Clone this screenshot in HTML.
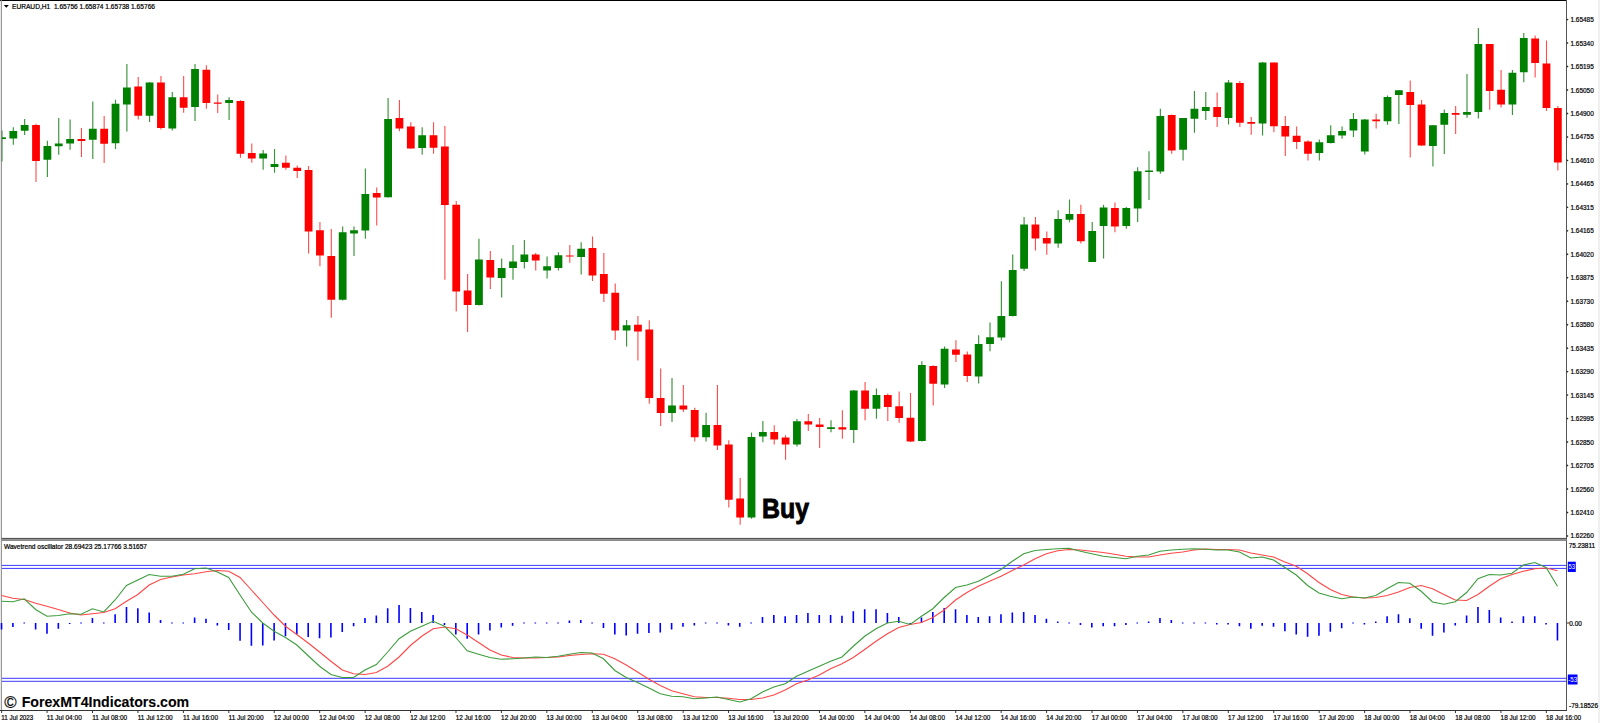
<!DOCTYPE html><html><head><meta charset="utf-8"><style>html,body{margin:0;padding:0;background:#fff;width:1600px;height:723px;overflow:hidden}svg{display:block;position:absolute;left:0;top:0}text{font-family:"Liberation Sans",sans-serif}.t{fill:#000;stroke:#000;stroke-width:0.22}</style></head><body><svg width="1600" height="723" viewBox="0 0 1600 723"><rect x="0" y="0" width="1600" height="723" fill="#fff"/><rect x="1598" y="0" width="2" height="723" fill="#f0f0f0"/><g clip-path="url(#cmain)"><clipPath id="cmain"><rect x="1.5" y="1" width="1565" height="537"/></clipPath><path d="M1.95 130.60V161.50M13.31 127.25V144.75M24.66 119.10V135.00M47.38 140.80V176.90M58.73 118.00V154.75M70.09 119.40V149.75M92.81 101.60V159.00M115.52 99.75V149.00M126.88 64.10V131.40M149.59 81.90V122.00M172.30 91.90V130.60M195.02 64.10V120.90M229.09 97.25V120.00M263.16 150.00V169.75M274.52 149.10V172.75M342.66 226.50V300.60M354.02 226.50V255.90M365.37 168.50V238.75M388.09 98.10V197.50M422.16 127.25V154.75M478.94 238.75V305.50M501.66 258.50V297.50M513.01 245.00V279.75M524.37 240.00V268.50M547.09 256.50V278.50M558.44 252.25V270.60M581.16 242.25V274.60M626.59 320.00V346.60M672.01 377.90V421.90M706.08 412.75V441.50M751.51 432.50V518.75M762.87 421.00V442.25M796.94 419.10V446.50M831.01 420.25V432.25M853.73 390.00V442.90M876.44 388.50V418.75M921.87 361.25V441.60M944.58 346.50V388.10M978.65 335.25V383.40M990.01 322.50V351.25M1001.37 281.25V340.60M1012.72 254.40V316.50M1024.08 216.90V271.00M1058.15 210.25V247.75M1069.51 199.60V222.25M1092.22 221.90V262.00M1103.58 204.75V258.50M1126.29 206.90V228.75M1137.65 167.25V221.90M1149.01 151.25V200.00M1160.36 108.75V173.75M1183.08 118.00V160.60M1194.43 91.00V132.75M1205.79 91.90V120.00M1228.51 80.00V124.40M1262.58 62.10V135.60M1319.36 139.40V160.60M1330.72 125.25V143.50M1342.08 126.50V138.75M1353.43 113.10V136.90M1364.79 119.00V154.60M1387.50 95.40V124.75M1398.86 90.00V124.00M1432.93 125.00V166.50M1444.29 109.40V154.00M1467.00 74.00V117.75M1478.36 28.10V118.50M1512.43 70.00V115.00M1523.79 32.90V82.25" stroke="#3a933a" stroke-width="1.15" fill="none"/><path d="M36.02 123.75V181.90M81.45 128.00V156.90M104.16 116.00V163.10M138.23 76.90V119.40M160.95 76.00V129.40M183.66 76.00V112.75M206.38 65.25V108.75M217.73 94.40V112.90M240.45 100.25V157.75M251.80 143.50V162.75M285.87 155.60V169.75M297.23 165.60V178.10M308.59 166.00V253.50M319.95 221.90V266.25M331.30 229.00V317.80M376.73 187.50V225.60M399.44 100.00V131.25M410.80 122.25V148.75M433.52 122.25V153.75M444.87 126.00V279.75M456.23 201.00V311.50M467.59 274.10V331.90M490.30 251.00V289.00M535.73 252.90V270.60M569.80 245.00V262.75M592.51 236.50V281.00M603.87 252.90V301.90M615.23 283.40V340.00M637.94 316.00V360.60M649.30 320.25V403.75M660.66 368.50V425.90M683.37 385.00V411.90M694.73 407.75V441.50M717.44 385.00V450.00M728.80 440.25V507.50M740.15 478.10V524.75M774.23 425.25V444.60M785.58 435.25V459.75M808.30 414.00V431.00M819.65 418.10V447.90M842.37 410.25V438.75M865.08 382.10V420.25M887.80 393.50V421.00M899.15 391.50V422.75M910.51 393.10V442.00M933.22 365.25V405.60M955.94 340.25V361.90M967.29 351.50V381.90M1035.44 216.90V250.60M1046.79 231.60V254.75M1080.87 204.75V243.50M1114.94 202.50V232.25M1171.72 114.60V153.75M1217.15 92.50V126.90M1239.86 81.00V126.90M1251.22 117.10V134.75M1273.93 62.50V132.25M1285.29 115.90V156.00M1296.65 126.50V149.00M1308.00 140.25V160.60M1376.15 113.75V128.50M1410.22 80.40V157.50M1421.58 100.00V146.00M1455.65 106.00V134.00M1489.72 44.00V109.75M1501.07 70.00V107.50M1535.14 35.60V77.50M1546.50 40.60V111.00M1557.86 106.00V170.60" stroke="#ff4a4a" stroke-width="1.1" fill="none"/><path d="M-1.95 137.50h7.8v1.50h-7.8zM9.41 131.00h7.8v7.50h-7.8zM20.76 125.00h7.8v5.75h-7.8zM43.48 146.00h7.8v13.75h-7.8zM54.84 143.50h7.8v2.75h-7.8zM66.19 139.10h7.8v4.40h-7.8zM88.91 128.75h7.8v11.00h-7.8zM111.62 103.75h7.8v39.55h-7.8zM122.98 87.50h7.8v16.90h-7.8zM145.69 82.50h7.8v33.30h-7.8zM168.40 97.25h7.8v31.25h-7.8zM191.12 69.00h7.8v38.10h-7.8zM225.19 100.00h7.8v2.90h-7.8zM259.26 153.50h7.8v4.90h-7.8zM270.62 164.10h7.8v2.80h-7.8zM338.76 232.25h7.8v67.45h-7.8zM350.12 230.25h7.8v3.25h-7.8zM361.47 194.00h7.8v36.60h-7.8zM384.19 119.00h7.8v78.20h-7.8zM418.26 135.25h7.8v12.85h-7.8zM475.04 259.40h7.8v45.60h-7.8zM497.76 268.10h7.8v10.00h-7.8zM509.12 261.50h7.8v6.60h-7.8zM520.47 254.40h7.8v7.50h-7.8zM543.19 266.25h7.8v4.15h-7.8zM554.54 255.25h7.8v12.85h-7.8zM577.26 248.75h7.8v8.15h-7.8zM622.69 325.25h7.8v5.35h-7.8zM668.11 405.60h7.8v7.30h-7.8zM702.18 425.00h7.8v12.25h-7.8zM747.61 437.10h7.8v80.40h-7.8zM758.97 431.90h7.8v4.70h-7.8zM793.04 421.25h7.8v23.15h-7.8zM827.11 427.25h7.8v1.75h-7.8zM849.83 390.40h7.8v39.60h-7.8zM872.54 395.00h7.8v13.75h-7.8zM917.97 365.00h7.8v75.90h-7.8zM940.68 348.75h7.8v35.85h-7.8zM974.75 344.00h7.8v32.60h-7.8zM986.11 337.25h7.8v6.75h-7.8zM997.47 316.00h7.8v21.50h-7.8zM1008.82 270.00h7.8v45.90h-7.8zM1020.18 224.60h7.8v44.15h-7.8zM1054.25 219.10h7.8v24.40h-7.8zM1065.61 214.00h7.8v5.75h-7.8zM1088.32 231.00h7.8v30.90h-7.8zM1099.68 207.50h7.8v18.40h-7.8zM1122.39 208.10h7.8v17.80h-7.8zM1133.75 171.25h7.8v37.25h-7.8zM1145.11 170.60h7.8v1.30h-7.8zM1156.46 115.90h7.8v55.70h-7.8zM1179.18 118.10h7.8v31.65h-7.8zM1190.53 108.75h7.8v10.00h-7.8zM1201.89 106.90h7.8v4.00h-7.8zM1224.61 82.50h7.8v35.40h-7.8zM1258.68 62.50h7.8v61.00h-7.8zM1315.46 142.25h7.8v10.85h-7.8zM1326.82 135.25h7.8v7.85h-7.8zM1338.18 131.00h7.8v4.60h-7.8zM1349.53 119.00h7.8v11.60h-7.8zM1360.89 119.60h7.8v32.00h-7.8zM1383.60 96.90h7.8v24.35h-7.8zM1394.96 90.25h7.8v4.75h-7.8zM1429.03 125.25h7.8v20.75h-7.8zM1440.39 113.10h7.8v11.65h-7.8zM1463.10 111.90h7.8v2.85h-7.8zM1474.46 44.10h7.8v67.80h-7.8zM1508.53 72.75h7.8v31.65h-7.8zM1519.89 38.10h7.8v34.15h-7.8z" fill="#008000"/><path d="M32.12 125.00h7.8v36.00h-7.8zM77.55 139.00h7.8v1.90h-7.8zM100.26 128.75h7.8v15.00h-7.8zM134.33 86.60h7.8v29.20h-7.8zM157.05 82.50h7.8v45.50h-7.8zM179.76 97.25h7.8v10.50h-7.8zM202.48 69.75h7.8v33.15h-7.8zM213.83 102.50h7.8v1.25h-7.8zM236.55 101.00h7.8v52.75h-7.8zM247.90 152.90h7.8v5.50h-7.8zM281.97 162.75h7.8v5.00h-7.8zM293.33 167.75h7.8v3.15h-7.8zM304.69 170.00h7.8v61.50h-7.8zM316.05 230.25h7.8v25.35h-7.8zM327.40 256.00h7.8v43.70h-7.8zM372.83 193.10h7.8v4.40h-7.8zM395.55 118.10h7.8v10.40h-7.8zM406.90 126.60h7.8v21.80h-7.8zM429.62 135.25h7.8v12.50h-7.8zM440.97 146.50h7.8v58.50h-7.8zM452.33 204.75h7.8v86.85h-7.8zM463.69 290.60h7.8v14.40h-7.8zM486.40 260.00h7.8v17.50h-7.8zM531.83 254.40h7.8v6.20h-7.8zM565.90 255.40h7.8v1.20h-7.8zM588.61 248.10h7.8v27.30h-7.8zM599.97 274.10h7.8v19.65h-7.8zM611.33 292.75h7.8v37.85h-7.8zM634.04 324.75h7.8v6.75h-7.8zM645.40 329.60h7.8v68.50h-7.8zM656.76 397.90h7.8v15.00h-7.8zM679.47 405.60h7.8v4.00h-7.8zM690.83 410.00h7.8v27.25h-7.8zM713.54 425.00h7.8v20.60h-7.8zM724.90 444.60h7.8v55.15h-7.8zM736.25 498.50h7.8v19.00h-7.8zM770.33 431.90h7.8v7.50h-7.8zM781.68 437.50h7.8v7.10h-7.8zM804.40 421.25h7.8v3.35h-7.8zM815.75 424.60h7.8v2.30h-7.8zM838.47 427.25h7.8v2.15h-7.8zM861.18 390.60h7.8v18.15h-7.8zM883.90 395.00h7.8v11.90h-7.8zM895.25 406.25h7.8v11.65h-7.8zM906.61 417.75h7.8v23.85h-7.8zM929.32 365.90h7.8v17.85h-7.8zM952.04 349.60h7.8v5.15h-7.8zM963.39 354.40h7.8v21.50h-7.8zM1031.54 224.60h7.8v13.90h-7.8zM1042.89 238.10h7.8v5.40h-7.8zM1076.96 214.00h7.8v27.25h-7.8zM1111.04 208.10h7.8v18.40h-7.8zM1167.82 115.00h7.8v35.40h-7.8zM1213.25 106.90h7.8v10.20h-7.8zM1235.96 83.10h7.8v39.65h-7.8zM1247.32 121.90h7.8v1.85h-7.8zM1270.03 62.50h7.8v63.75h-7.8zM1281.39 125.90h7.8v10.70h-7.8zM1292.75 135.75h7.8v6.15h-7.8zM1304.10 141.50h7.8v12.25h-7.8zM1372.25 119.40h7.8v1.85h-7.8zM1406.32 91.90h7.8v13.10h-7.8zM1417.67 104.60h7.8v41.00h-7.8zM1451.75 112.90h7.8v1.85h-7.8zM1485.82 44.10h7.8v46.80h-7.8zM1497.17 89.75h7.8v14.65h-7.8zM1531.24 38.50h7.8v24.60h-7.8zM1542.60 63.50h7.8v44.40h-7.8zM1553.96 108.10h7.8v54.30h-7.8z" fill="#ff0000"/></g><path d="M1.5 130.6V161.5" stroke="#0a5a0a" stroke-width="1.1"/><rect x="1.9" y="137.6" width="3.95" height="1.3" fill="#008000"/><text x="762" y="517.5" font-size="27.5" font-weight="bold" fill="#000" stroke="#000" stroke-width="0.9" textLength="47" lengthAdjust="spacingAndGlyphs">Buy</text><path d="M3.8 5H8.8L6.3 7.8Z" fill="#000"/><text x="12" y="8.8" font-size="7" class="t" textLength="143" lengthAdjust="spacingAndGlyphs" xml:space="preserve">EURAUD,H1  1.65756 1.65874 1.65738 1.65766</text><rect x="0" y="0" width="1567" height="1" fill="#000"/><rect x="0.8" y="0" width="1.1" height="711" fill="#8c8c8c"/><rect x="1566" y="0" width="1" height="711" fill="#555"/><rect x="1.5" y="537.9" width="1565" height="1.2" fill="#555"/><rect x="1.5" y="539.1" width="1565" height="1.9" fill="#8a8a8a"/><rect x="0" y="710" width="1567" height="1" fill="#333"/><path d="M1566.8 18.40L1568.6 19.60L1566.8 20.80Z" fill="#222"/><text x="1570.4" y="22.10" font-size="7.8" class="t" textLength="23.4" lengthAdjust="spacingAndGlyphs">1.65485</text><path d="M1566.8 41.87L1568.6 43.07L1566.8 44.27Z" fill="#222"/><text x="1570.4" y="45.57" font-size="7.8" class="t" textLength="23.4" lengthAdjust="spacingAndGlyphs">1.65340</text><path d="M1566.8 65.34L1568.6 66.54L1566.8 67.74Z" fill="#222"/><text x="1570.4" y="69.04" font-size="7.8" class="t" textLength="23.4" lengthAdjust="spacingAndGlyphs">1.65195</text><path d="M1566.8 88.81L1568.6 90.01L1566.8 91.21Z" fill="#222"/><text x="1570.4" y="92.51" font-size="7.8" class="t" textLength="23.4" lengthAdjust="spacingAndGlyphs">1.65050</text><path d="M1566.8 112.28L1568.6 113.48L1566.8 114.68Z" fill="#222"/><text x="1570.4" y="115.98" font-size="7.8" class="t" textLength="23.4" lengthAdjust="spacingAndGlyphs">1.64900</text><path d="M1566.8 135.75L1568.6 136.95L1566.8 138.15Z" fill="#222"/><text x="1570.4" y="139.45" font-size="7.8" class="t" textLength="23.4" lengthAdjust="spacingAndGlyphs">1.64755</text><path d="M1566.8 159.22L1568.6 160.42L1566.8 161.62Z" fill="#222"/><text x="1570.4" y="162.92" font-size="7.8" class="t" textLength="23.4" lengthAdjust="spacingAndGlyphs">1.64610</text><path d="M1566.8 182.69L1568.6 183.89L1566.8 185.09Z" fill="#222"/><text x="1570.4" y="186.39" font-size="7.8" class="t" textLength="23.4" lengthAdjust="spacingAndGlyphs">1.64465</text><path d="M1566.8 206.16L1568.6 207.36L1566.8 208.56Z" fill="#222"/><text x="1570.4" y="209.86" font-size="7.8" class="t" textLength="23.4" lengthAdjust="spacingAndGlyphs">1.64315</text><path d="M1566.8 229.63L1568.6 230.83L1566.8 232.03Z" fill="#222"/><text x="1570.4" y="233.33" font-size="7.8" class="t" textLength="23.4" lengthAdjust="spacingAndGlyphs">1.64165</text><path d="M1566.8 253.10L1568.6 254.30L1566.8 255.50Z" fill="#222"/><text x="1570.4" y="256.80" font-size="7.8" class="t" textLength="23.4" lengthAdjust="spacingAndGlyphs">1.64020</text><path d="M1566.8 276.57L1568.6 277.77L1566.8 278.97Z" fill="#222"/><text x="1570.4" y="280.27" font-size="7.8" class="t" textLength="23.4" lengthAdjust="spacingAndGlyphs">1.63875</text><path d="M1566.8 300.04L1568.6 301.24L1566.8 302.44Z" fill="#222"/><text x="1570.4" y="303.74" font-size="7.8" class="t" textLength="23.4" lengthAdjust="spacingAndGlyphs">1.63730</text><path d="M1566.8 323.51L1568.6 324.71L1566.8 325.91Z" fill="#222"/><text x="1570.4" y="327.21" font-size="7.8" class="t" textLength="23.4" lengthAdjust="spacingAndGlyphs">1.63580</text><path d="M1566.8 346.98L1568.6 348.18L1566.8 349.38Z" fill="#222"/><text x="1570.4" y="350.68" font-size="7.8" class="t" textLength="23.4" lengthAdjust="spacingAndGlyphs">1.63435</text><path d="M1566.8 370.45L1568.6 371.65L1566.8 372.85Z" fill="#222"/><text x="1570.4" y="374.15" font-size="7.8" class="t" textLength="23.4" lengthAdjust="spacingAndGlyphs">1.63290</text><path d="M1566.8 393.92L1568.6 395.12L1566.8 396.32Z" fill="#222"/><text x="1570.4" y="397.62" font-size="7.8" class="t" textLength="23.4" lengthAdjust="spacingAndGlyphs">1.63145</text><path d="M1566.8 417.39L1568.6 418.59L1566.8 419.79Z" fill="#222"/><text x="1570.4" y="421.09" font-size="7.8" class="t" textLength="23.4" lengthAdjust="spacingAndGlyphs">1.62995</text><path d="M1566.8 440.86L1568.6 442.06L1566.8 443.26Z" fill="#222"/><text x="1570.4" y="444.56" font-size="7.8" class="t" textLength="23.4" lengthAdjust="spacingAndGlyphs">1.62850</text><path d="M1566.8 464.33L1568.6 465.53L1566.8 466.73Z" fill="#222"/><text x="1570.4" y="468.03" font-size="7.8" class="t" textLength="23.4" lengthAdjust="spacingAndGlyphs">1.62705</text><path d="M1566.8 487.80L1568.6 489.00L1566.8 490.20Z" fill="#222"/><text x="1570.4" y="491.50" font-size="7.8" class="t" textLength="23.4" lengthAdjust="spacingAndGlyphs">1.62560</text><path d="M1566.8 511.27L1568.6 512.47L1566.8 513.67Z" fill="#222"/><text x="1570.4" y="514.97" font-size="7.8" class="t" textLength="23.4" lengthAdjust="spacingAndGlyphs">1.62410</text><path d="M1566.8 534.74L1568.6 535.94L1566.8 537.14Z" fill="#222"/><text x="1570.4" y="538.44" font-size="7.8" class="t" textLength="23.4" lengthAdjust="spacingAndGlyphs">1.62260</text><text x="4" y="549" font-size="7" class="t" textLength="143" lengthAdjust="spacingAndGlyphs">Wavetrend oscillator 28.69423 25.17766 3.51657</text><rect x="1.9" y="564.9" width="1564.1" height="1" fill="#3a3aff"/><rect x="1.9" y="567.9" width="1564.1" height="1" fill="#3a3aff"/><rect x="1.9" y="677.8" width="1564.1" height="1" fill="#3a3aff"/><rect x="1.9" y="680.8" width="1564.1" height="1" fill="#3a3aff"/><path d="M1.55 623.00V629.50M12.91 623.00V627.00M24.26 622.60V623.60M35.62 623.00V629.50M46.98 623.00V633.75M58.33 623.00V628.75M69.69 623.00V624.00M81.05 622.60V623.60M92.41 618.00V623.00M103.76 622.60V623.60M115.12 614.25V623.00M126.48 607.00V623.00M137.83 608.25V623.00M149.19 612.50V623.00M160.55 620.00V623.00M171.91 622.60V623.60M183.26 622.60V623.60M194.62 617.50V623.00M205.98 618.75V623.00M217.33 623.00V625.50M228.69 623.00V630.00M240.05 623.00V640.75M251.40 623.00V645.75M262.76 623.00V645.50M274.12 623.00V640.50M285.47 623.00V636.25M296.83 623.00V634.25M308.19 623.00V637.00M319.55 623.00V638.25M330.90 623.00V637.50M342.26 623.00V632.00M353.62 623.00V626.25M364.97 618.00V623.00M376.33 615.50V623.00M387.69 608.25V623.00M399.05 605.00V623.00M410.40 608.00V623.00M421.76 612.00V623.00M433.12 615.00V623.00M444.47 623.00V625.00M455.83 623.00V634.50M467.19 623.00V638.75M478.54 623.00V634.50M489.90 623.00V630.50M501.26 623.00V627.50M512.61 623.00V625.75M523.97 622.60V623.60M535.33 622.60V623.60M546.69 622.60V623.60M558.04 622.60V623.60M569.40 620.50V623.00M580.76 620.00V623.00M592.11 622.60V623.60M603.47 623.00V628.00M614.83 623.00V634.50M626.18 623.00V635.50M637.54 623.00V633.75M648.90 623.00V633.00M660.26 623.00V632.50M671.61 623.00V629.50M682.97 623.00V626.75M694.33 623.00V625.50M705.68 622.60V623.60M717.04 622.60V623.60M728.40 623.00V625.50M739.75 623.00V626.75M751.11 622.60V623.60M762.47 617.00V623.00M773.83 615.00V623.00M785.18 616.25V623.00M796.54 615.00V623.00M807.90 613.00V623.00M819.25 615.00V623.00M830.61 615.00V623.00M841.97 615.75V623.00M853.32 611.25V623.00M864.68 609.25V623.00M876.04 609.25V623.00M887.40 613.00V623.00M898.75 617.00V623.00M910.11 623.00V624.00M921.47 617.50V623.00M932.82 612.00V623.00M944.18 608.00V623.00M955.54 609.25V623.00M966.89 615.00V623.00M978.25 617.00V623.00M989.61 616.25V623.00M1000.97 614.25V623.00M1012.32 612.50V623.00M1023.68 612.00V623.00M1035.04 615.00V623.00M1046.39 618.75V623.00M1057.75 621.50V623.00M1069.11 622.60V623.60M1080.46 623.00V625.00M1091.82 623.00V627.50M1103.18 623.00V626.25M1114.54 623.00V626.25M1125.89 623.00V625.00M1137.25 622.60V623.60M1148.61 621.50V623.00M1159.96 618.00V623.00M1171.32 620.00V623.00M1182.68 622.60V623.60M1194.03 622.60V623.60M1205.39 622.60V623.60M1216.75 623.00V624.50M1228.11 623.00V624.50M1239.46 623.00V626.25M1250.82 623.00V628.75M1262.18 623.00V625.75M1273.53 623.00V626.75M1284.89 623.00V631.25M1296.25 623.00V634.50M1307.60 623.00V636.75M1318.96 623.00V635.75M1330.32 623.00V631.75M1341.68 623.00V628.25M1353.03 622.60V623.60M1364.39 623.00V624.50M1375.75 621.50V623.00M1387.10 616.25V623.00M1398.46 614.25V623.00M1409.82 618.25V623.00M1421.17 623.00V628.75M1432.53 623.00V635.75M1443.89 623.00V632.50M1455.25 623.00V625.50M1466.60 615.50V623.00M1477.96 607.00V623.00M1489.32 610.00V623.00M1500.67 617.50V623.00M1512.03 621.50V623.00M1523.39 616.25V623.00M1534.74 616.25V623.00M1546.10 623.00V624.50M1557.46 623.00V640.50" stroke="#0000ff" stroke-width="1.6" fill="none"/><polyline points="1.55,595.50 12.91,598.25 24.26,599.50 35.62,603.25 46.98,606.25 58.33,609.50 69.69,613.00 81.05,615.00 92.41,613.75 103.76,612.50 115.12,608.75 126.48,601.25 137.83,594.50 149.19,585.00 160.55,579.50 171.91,577.00 183.26,575.00 194.62,573.75 205.98,571.75 217.33,570.50 228.69,571.25 240.05,577.50 251.40,590.00 262.76,602.50 274.12,615.00 285.47,626.25 296.83,634.50 308.19,643.00 319.55,652.00 330.90,661.25 342.26,670.00 353.62,673.75 364.97,674.50 376.33,672.50 387.69,666.25 399.05,657.00 410.40,645.50 421.76,636.25 433.12,628.75 444.47,627.00 455.83,628.75 467.19,635.00 478.54,642.50 489.90,650.00 501.26,655.00 512.61,657.50 523.97,658.00 535.33,658.00 546.69,657.50 558.04,657.00 569.40,655.50 580.76,654.50 592.11,653.75 603.47,654.25 614.83,658.75 626.18,665.00 637.54,672.00 648.90,679.25 660.26,685.50 671.61,690.75 682.97,693.75 694.33,696.75 705.68,697.50 717.04,697.50 728.40,698.25 739.75,699.50 751.11,699.50 762.47,698.00 773.83,695.00 785.18,690.00 796.54,683.75 807.90,680.00 819.25,675.00 830.61,668.75 841.97,663.75 853.32,657.50 864.68,649.50 876.04,641.25 887.40,633.75 898.75,627.50 910.11,624.50 921.47,622.50 932.82,617.50 944.18,610.00 955.54,600.00 966.89,592.50 978.25,586.25 989.61,581.25 1000.97,576.25 1012.32,570.50 1023.68,565.00 1035.04,558.75 1046.39,553.75 1057.75,550.75 1069.11,549.50 1080.46,550.00 1091.82,551.25 1103.18,552.50 1114.54,554.25 1125.89,556.25 1137.25,557.00 1148.61,557.00 1159.96,555.00 1171.32,553.25 1182.68,552.00 1194.03,550.00 1205.39,549.00 1216.75,549.50 1228.11,549.50 1239.46,550.00 1250.82,553.00 1262.18,555.00 1273.53,557.00 1284.89,562.00 1296.25,566.25 1307.60,573.75 1318.96,582.50 1330.32,589.50 1341.68,594.50 1353.03,597.00 1364.39,598.00 1375.75,597.50 1387.10,595.50 1398.46,592.00 1409.82,587.50 1421.17,585.50 1432.53,588.75 1443.89,594.50 1455.25,600.00 1466.60,600.50 1477.96,594.50 1489.32,586.25 1500.67,578.75 1512.03,574.50 1523.39,571.25 1534.74,568.75 1546.10,568.00 1557.46,570.75" stroke="#ff4646" stroke-width="1.1" fill="none"/><polyline points="1.55,601.25 12.91,601.75 24.26,598.75 35.62,609.50 46.98,616.25 58.33,615.50 69.69,613.75 81.05,614.25 92.41,608.75 103.76,612.00 115.12,600.00 126.48,585.50 137.83,580.00 149.19,574.50 160.55,576.25 171.91,576.25 183.26,574.25 194.62,568.75 205.98,568.00 217.33,572.00 228.69,577.50 240.05,595.00 251.40,612.00 262.76,623.00 274.12,631.25 285.47,637.50 296.83,645.00 308.19,655.75 319.55,666.25 330.90,674.50 342.26,677.50 353.62,677.50 364.97,670.00 376.33,664.50 387.69,652.00 399.05,638.75 410.40,631.25 421.76,626.25 433.12,621.25 444.47,626.25 455.83,637.50 467.19,650.75 478.54,654.25 489.90,657.50 501.26,659.25 512.61,658.75 523.97,658.00 535.33,657.00 546.69,657.50 558.04,656.25 569.40,654.25 580.76,652.50 592.11,653.00 603.47,658.75 614.83,670.50 626.18,677.50 637.54,682.50 648.90,688.00 660.26,693.75 671.61,696.25 682.97,696.75 694.33,698.75 705.68,698.00 717.04,697.00 728.40,699.50 739.75,702.00 751.11,698.75 762.47,692.00 773.83,687.00 785.18,683.75 796.54,676.25 807.90,671.25 819.25,666.25 830.61,661.25 841.97,657.00 853.32,646.25 864.68,636.25 876.04,628.75 887.40,623.00 898.75,621.25 910.11,624.50 921.47,616.25 932.82,608.75 944.18,597.50 955.54,587.50 966.89,585.00 978.25,581.25 989.61,575.50 1000.97,569.50 1012.32,561.25 1023.68,553.75 1035.04,550.50 1046.39,549.50 1057.75,548.75 1069.11,548.25 1080.46,551.25 1091.82,553.75 1103.18,556.25 1114.54,557.50 1125.89,558.75 1137.25,556.25 1148.61,555.00 1159.96,551.25 1171.32,550.00 1182.68,549.25 1194.03,548.75 1205.39,549.25 1216.75,550.00 1228.11,550.00 1239.46,552.00 1250.82,558.00 1262.18,557.00 1273.53,560.00 1284.89,567.50 1296.25,575.00 1307.60,585.50 1318.96,593.00 1330.32,596.25 1341.68,598.75 1353.03,597.00 1364.39,598.00 1375.75,595.50 1387.10,588.75 1398.46,582.50 1409.82,583.25 1421.17,591.25 1432.53,602.00 1443.89,604.25 1455.25,601.75 1466.60,592.50 1477.96,578.75 1489.32,574.50 1500.67,575.00 1512.03,573.25 1523.39,565.00 1534.74,562.50 1546.10,567.50 1557.46,586.25" stroke="#3c9c3c" stroke-width="1.1" fill="none"/><text x="1568.7" y="547.5" font-size="7" class="t" textLength="26.5" lengthAdjust="spacingAndGlyphs">75.23811</text><rect x="1567.8" y="561.7" width="8" height="10.3" fill="#0000ff"/><text x="1568.6" y="569.2" font-size="7" fill="#fff" textLength="6.5" lengthAdjust="spacingAndGlyphs">53</text><rect x="1567" y="622.5" width="2.5" height="1" fill="#333"/><text x="1569.3" y="625.8" font-size="7" class="t" textLength="12.5" lengthAdjust="spacingAndGlyphs">0.00</text><rect x="1567.8" y="674.5" width="9.7" height="10" fill="#0000ff"/><text x="1568.3" y="682" font-size="7" fill="#fff" textLength="9" lengthAdjust="spacingAndGlyphs">-53</text><text x="1569" y="707.8" font-size="7" class="t" textLength="29" lengthAdjust="spacingAndGlyphs">-79.18526</text><text x="4.2" y="708.1" font-size="16" font-weight="normal" fill="#000" stroke="#000" stroke-width="0.15" textLength="12.4" lengthAdjust="spacingAndGlyphs">©</text><text x="21.7" y="706.6" font-size="14.3" font-weight="bold" fill="#000" stroke="#000" stroke-width="0.1" textLength="167.5" lengthAdjust="spacingAndGlyphs">ForexMT4Indicators.com</text><rect x="1.15" y="710" width="1" height="3" fill="#333"/><text x="1.35" y="719.6" font-size="7.6" class="t" textLength="32" lengthAdjust="spacingAndGlyphs">11 Jul 2023</text><rect x="46.58" y="710" width="1" height="3" fill="#333"/><text x="46.78" y="719.6" font-size="7.6" class="t" textLength="35" lengthAdjust="spacingAndGlyphs">11 Jul 04:00</text><rect x="92.01" y="710" width="1" height="3" fill="#333"/><text x="92.21" y="719.6" font-size="7.6" class="t" textLength="35" lengthAdjust="spacingAndGlyphs">11 Jul 08:00</text><rect x="137.45" y="710" width="1" height="3" fill="#333"/><text x="137.65" y="719.6" font-size="7.6" class="t" textLength="35" lengthAdjust="spacingAndGlyphs">11 Jul 12:00</text><rect x="182.88" y="710" width="1" height="3" fill="#333"/><text x="183.08" y="719.6" font-size="7.6" class="t" textLength="35" lengthAdjust="spacingAndGlyphs">11 Jul 16:00</text><rect x="228.31" y="710" width="1" height="3" fill="#333"/><text x="228.51" y="719.6" font-size="7.6" class="t" textLength="35" lengthAdjust="spacingAndGlyphs">11 Jul 20:00</text><rect x="273.74" y="710" width="1" height="3" fill="#333"/><text x="273.94" y="719.6" font-size="7.6" class="t" textLength="35" lengthAdjust="spacingAndGlyphs">12 Jul 00:00</text><rect x="319.17" y="710" width="1" height="3" fill="#333"/><text x="319.37" y="719.6" font-size="7.6" class="t" textLength="35" lengthAdjust="spacingAndGlyphs">12 Jul 04:00</text><rect x="364.61" y="710" width="1" height="3" fill="#333"/><text x="364.81" y="719.6" font-size="7.6" class="t" textLength="35" lengthAdjust="spacingAndGlyphs">12 Jul 08:00</text><rect x="410.04" y="710" width="1" height="3" fill="#333"/><text x="410.24" y="719.6" font-size="7.6" class="t" textLength="35" lengthAdjust="spacingAndGlyphs">12 Jul 12:00</text><rect x="455.47" y="710" width="1" height="3" fill="#333"/><text x="455.67" y="719.6" font-size="7.6" class="t" textLength="35" lengthAdjust="spacingAndGlyphs">12 Jul 16:00</text><rect x="500.90" y="710" width="1" height="3" fill="#333"/><text x="501.10" y="719.6" font-size="7.6" class="t" textLength="35" lengthAdjust="spacingAndGlyphs">12 Jul 20:00</text><rect x="546.33" y="710" width="1" height="3" fill="#333"/><text x="546.53" y="719.6" font-size="7.6" class="t" textLength="35" lengthAdjust="spacingAndGlyphs">13 Jul 00:00</text><rect x="591.77" y="710" width="1" height="3" fill="#333"/><text x="591.97" y="719.6" font-size="7.6" class="t" textLength="35" lengthAdjust="spacingAndGlyphs">13 Jul 04:00</text><rect x="637.20" y="710" width="1" height="3" fill="#333"/><text x="637.40" y="719.6" font-size="7.6" class="t" textLength="35" lengthAdjust="spacingAndGlyphs">13 Jul 08:00</text><rect x="682.63" y="710" width="1" height="3" fill="#333"/><text x="682.83" y="719.6" font-size="7.6" class="t" textLength="35" lengthAdjust="spacingAndGlyphs">13 Jul 12:00</text><rect x="728.06" y="710" width="1" height="3" fill="#333"/><text x="728.26" y="719.6" font-size="7.6" class="t" textLength="35" lengthAdjust="spacingAndGlyphs">13 Jul 16:00</text><rect x="773.49" y="710" width="1" height="3" fill="#333"/><text x="773.69" y="719.6" font-size="7.6" class="t" textLength="35" lengthAdjust="spacingAndGlyphs">13 Jul 20:00</text><rect x="818.93" y="710" width="1" height="3" fill="#333"/><text x="819.13" y="719.6" font-size="7.6" class="t" textLength="35" lengthAdjust="spacingAndGlyphs">14 Jul 00:00</text><rect x="864.36" y="710" width="1" height="3" fill="#333"/><text x="864.56" y="719.6" font-size="7.6" class="t" textLength="35" lengthAdjust="spacingAndGlyphs">14 Jul 04:00</text><rect x="909.79" y="710" width="1" height="3" fill="#333"/><text x="909.99" y="719.6" font-size="7.6" class="t" textLength="35" lengthAdjust="spacingAndGlyphs">14 Jul 08:00</text><rect x="955.22" y="710" width="1" height="3" fill="#333"/><text x="955.42" y="719.6" font-size="7.6" class="t" textLength="35" lengthAdjust="spacingAndGlyphs">14 Jul 12:00</text><rect x="1000.65" y="710" width="1" height="3" fill="#333"/><text x="1000.85" y="719.6" font-size="7.6" class="t" textLength="35" lengthAdjust="spacingAndGlyphs">14 Jul 16:00</text><rect x="1046.09" y="710" width="1" height="3" fill="#333"/><text x="1046.29" y="719.6" font-size="7.6" class="t" textLength="35" lengthAdjust="spacingAndGlyphs">14 Jul 20:00</text><rect x="1091.52" y="710" width="1" height="3" fill="#333"/><text x="1091.72" y="719.6" font-size="7.6" class="t" textLength="35" lengthAdjust="spacingAndGlyphs">17 Jul 00:00</text><rect x="1136.95" y="710" width="1" height="3" fill="#333"/><text x="1137.15" y="719.6" font-size="7.6" class="t" textLength="35" lengthAdjust="spacingAndGlyphs">17 Jul 04:00</text><rect x="1182.38" y="710" width="1" height="3" fill="#333"/><text x="1182.58" y="719.6" font-size="7.6" class="t" textLength="35" lengthAdjust="spacingAndGlyphs">17 Jul 08:00</text><rect x="1227.81" y="710" width="1" height="3" fill="#333"/><text x="1228.01" y="719.6" font-size="7.6" class="t" textLength="35" lengthAdjust="spacingAndGlyphs">17 Jul 12:00</text><rect x="1273.25" y="710" width="1" height="3" fill="#333"/><text x="1273.45" y="719.6" font-size="7.6" class="t" textLength="35" lengthAdjust="spacingAndGlyphs">17 Jul 16:00</text><rect x="1318.68" y="710" width="1" height="3" fill="#333"/><text x="1318.88" y="719.6" font-size="7.6" class="t" textLength="35" lengthAdjust="spacingAndGlyphs">17 Jul 20:00</text><rect x="1364.11" y="710" width="1" height="3" fill="#333"/><text x="1364.31" y="719.6" font-size="7.6" class="t" textLength="35" lengthAdjust="spacingAndGlyphs">18 Jul 00:00</text><rect x="1409.54" y="710" width="1" height="3" fill="#333"/><text x="1409.74" y="719.6" font-size="7.6" class="t" textLength="35" lengthAdjust="spacingAndGlyphs">18 Jul 04:00</text><rect x="1454.97" y="710" width="1" height="3" fill="#333"/><text x="1455.17" y="719.6" font-size="7.6" class="t" textLength="35" lengthAdjust="spacingAndGlyphs">18 Jul 08:00</text><rect x="1500.41" y="710" width="1" height="3" fill="#333"/><text x="1500.61" y="719.6" font-size="7.6" class="t" textLength="35" lengthAdjust="spacingAndGlyphs">18 Jul 12:00</text><rect x="1545.84" y="710" width="1" height="3" fill="#333"/><text x="1546.04" y="719.6" font-size="7.6" class="t" textLength="35" lengthAdjust="spacingAndGlyphs">18 Jul 16:00</text></svg></body></html>
